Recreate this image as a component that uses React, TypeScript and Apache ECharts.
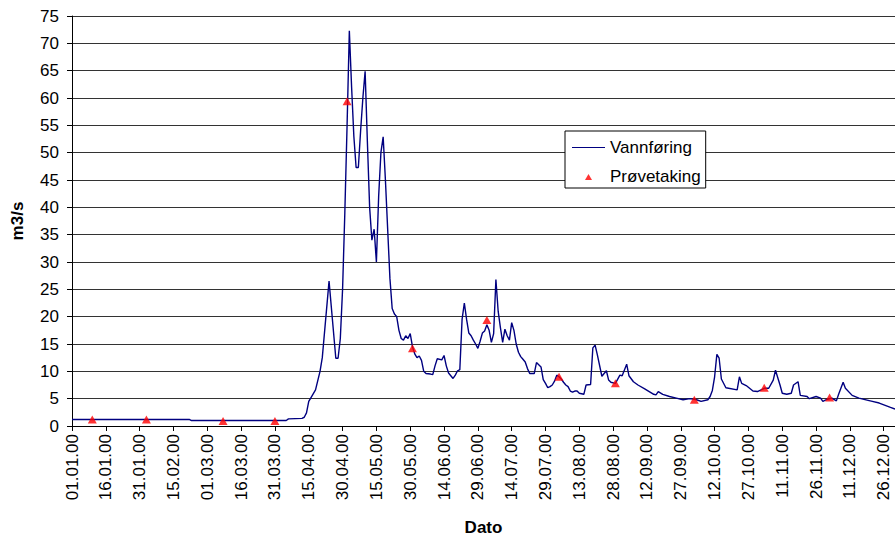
import React, { useEffect, useRef } from "react";
import * as echarts from "echarts";

// Tick labels every 15 days from 01.01.00 (day index 0, 15, 30, ...)
const tickLabels = [
  "01.01.00", "16.01.00", "31.01.00", "15.02.00", "01.03.00", "16.03.00",
  "31.03.00", "15.04.00", "30.04.00", "15.05.00", "30.05.00", "14.06.00",
  "29.06.00", "14.07.00", "29.07.00", "13.08.00", "28.08.00", "12.09.00",
  "27.09.00", "12.10.00", "27.10.00", "11.11.00", "26.11.00", "11.12.00",
  "26.12.00",
];

// Vannføring (discharge): day of year 2000 (0 = 01.01.00) and m3/s
const flowDay = [
  0, 52, 53, 95, 96, 102, 103, 104, 105, 106, 108, 110, 111, 114, 117, 118,
  119, 120, 121, 122, 123, 124, 125, 126, 127, 128, 129, 130, 131, 132, 133,
  134, 135, 136, 137, 138, 139, 140, 141, 142, 143, 144, 145, 146, 147, 148,
  149, 150, 151, 152, 153, 154, 155, 156, 157, 159, 160, 161, 162, 164, 165,
  166, 167, 168, 169, 170, 171, 172, 173, 174, 175, 176, 177, 178, 179, 180,
  181, 182, 183, 184, 185, 186, 187, 188, 189, 190, 191, 192, 193, 194, 195,
  196, 197, 198, 199, 200, 201, 202, 203, 205, 206, 207, 208, 209, 210, 211,
  212, 213, 214, 215, 216, 217, 218, 219, 220, 221, 222, 223, 224, 225, 226,
  227, 228, 230, 231, 232, 233, 235, 237, 238, 239, 241, 243, 244, 246, 247,
  249, 251, 254, 256, 258, 259, 260, 262, 265, 268, 271, 274, 277, 279, 282,
  283, 284, 285, 286, 287, 288, 290, 295, 296, 297, 299, 302, 304, 307, 309,
  311, 312, 314, 315, 317, 319, 320, 322, 323, 326, 327, 330, 332, 333, 335,
  337, 339, 340, 342, 343, 346, 349, 354, 358, 363, 365,
];
const flowValue = [
  1.2, 1.2, 1.0, 1.0, 1.3, 1.4, 1.6, 2.4, 4.5, 5.2, 6.6, 10, 12.5, 26.5, 12.4, 12.4,
  16, 25, 39, 55, 72.3, 62, 53, 47.3, 47.3, 54, 60, 64.9, 52, 40, 34,
  36, 30, 42, 50, 52.9, 45, 36, 27, 21.5, 20.5, 20, 17.5, 16, 15.7, 16.5,
  16, 16.9, 14.5, 13.2, 12.5, 12.8, 12, 10, 9.6, 9.5, 9.4, 11, 12.3, 12.1, 12.9,
  11, 9.7, 9.2, 8.7, 9.3, 10.1, 10.3, 19.5, 22.5, 19.5, 17, 16.5, 15.7, 15, 14.2,
  15.5, 17, 17.4, 18.5, 17.5, 15.3, 16.9, 26.8, 21, 18, 15.3, 17.7, 16.5, 15.7, 18.9,
  17.5, 15, 13.5, 12.7, 12.2, 11.7, 10.5, 9.6, 9.6, 11.6, 11.2, 10.8, 8.5, 7.8, 7.0,
  7.2, 7.5, 8.2, 9.3, 9.0, 8.6, 8.0, 7.5, 7.2, 6.4, 6.2, 6.4, 6.4, 6.0, 5.9,
  5.8, 7.5, 7.6, 14.3, 14.8, 13, 9.1, 10.1, 8.4, 8.0, 7.8, 9.3, 9.2, 11.3, 9.2,
  8.1, 7.5, 6.8, 6.3, 5.8, 5.7, 6.3, 5.8, 5.4, 5.1, 4.8, 5.0, 4.8, 4.5, 4.8,
  5.4, 6.5, 9, 13.1, 12.4, 8.6, 7.0, 6.6, 9.0, 7.8, 7.4, 6.4, 6.3, 6.9, 6.9,
  8.4, 10.2, 7.5, 6.0, 5.8, 6.0, 7.5, 8.1, 5.6, 5.4, 5.0, 5.4, 5.1, 4.5, 4.9,
  5.1, 4.6, 5.8, 8.0, 6.9, 5.6, 5.1, 4.6, 4.2, 3.4, 3.1,
];

// Prøvetaking (sampling): day of year and m3/s
const sampleDay = [9, 33, 67, 90, 122, 151, 184, 216, 241, 276, 307, 336];
const sampleValue = [1.2, 1.2, 0.9, 0.9, 59.4, 14.2, 19.4, 9.0, 7.8, 4.8, 7.0, 5.2];

const FONT = "'Liberation Sans', Arial, Helvetica, sans-serif";

// Legend icons drawn inside a 33x8 box (corner moveTo's fix the bounding box)
const LINE_ICON = "path://M0,0 M33,8 M0,3.4 L33,3.4 L33,4.6 L0,4.6 Z";
const TRIANGLE_ICON = "path://M0,0 M33,8 M13,7.5 L16.5,1.5 L20,7.5 Z";

export default function App() {
  const ref = useRef<HTMLDivElement>(null);

  useEffect(() => {
    document.body.style.margin = "0";
    const chart = echarts.init(ref.current as HTMLDivElement, null, { renderer: "svg" });
    chart.setOption({
      animation: false,
      backgroundColor: "#ffffff",
      textStyle: { fontFamily: FONT, color: "#000" },
      grid: { left: 72, top: 16, width: 826.7, height: 412 },
      legend: {
        orient: "vertical",
        left: 565,
        top: 131,
        padding: [8, 5, 3, 7],
        itemGap: 12,
        itemWidth: 33,
        itemHeight: 8,
        symbolKeepAspect: false,
        backgroundColor: "#ffffff",
        borderColor: "#000000",
        borderWidth: 1,
        borderRadius: 0,
        textStyle: { fontSize: 17, color: "#000", fontFamily: FONT },
        data: [
          { name: "Vannføring", icon: LINE_ICON, itemStyle: { color: "#000080", borderWidth: 0 } },
          { name: "Prøvetaking", icon: TRIANGLE_ICON, itemStyle: { color: "#ff0000", borderWidth: 0 } },
        ],
      },
      xAxis: {
        type: "value",
        min: 0,
        max: 365,
        interval: 15,
        axisLine: { show: true, onZero: false, lineStyle: { color: "#000", width: 1 } },
        axisTick: { show: true, length: 5, lineStyle: { color: "#000" } },
        axisLabel: {
          rotate: 90,
          margin: 8,
          fontSize: 17,
          color: "#000",
          fontFamily: FONT,
          showMaxLabel: false,
          formatter: (v: number) => (v % 15 === 0 ? tickLabels[v / 15] ?? "" : ""),
        },
        splitLine: { show: false },
        name: "Dato",
        nameLocation: "middle",
        nameGap: 93,
        nameTextStyle: { fontWeight: "bold", fontSize: 17, color: "#000", fontFamily: FONT },
      },
      yAxis: {
        type: "value",
        min: 0,
        max: 75,
        interval: 5,
        axisLine: { show: true, lineStyle: { color: "#000", width: 1 } },
        axisTick: { show: true, length: 5, lineStyle: { color: "#000" } },
        axisLabel: { margin: 13, fontSize: 17, color: "#000", fontFamily: FONT },
        splitLine: { show: true, lineStyle: { color: "#333", width: 1 } },
        name: "m3/s",
        nameLocation: "middle",
        nameGap: 46,
        nameRotate: 90,
        nameTextStyle: { fontWeight: "bold", fontSize: 17, color: "#000", fontFamily: FONT },
      },
      series: [
        {
          name: "Vannføring",
          type: "line",
          data: flowDay.map((d, i) => [d, flowValue[i]]),
          symbol: "none",
          lineStyle: { color: "#000080", width: 1.4 },
          itemStyle: { color: "#000080" },
          z: 2,
        },
        {
          name: "Prøvetaking",
          type: "scatter",
          data: sampleDay.map((d, i) => [d, sampleValue[i]]),
          symbol: "triangle",
          symbolSize: [9, 8],
          itemStyle: { color: "#ff0000" },
          z: 3,
        },
      ],
    });
    return () => chart.dispose();
  }, []);

  return <div ref={ref} style={{ width: 895, height: 541 }} />;
}
